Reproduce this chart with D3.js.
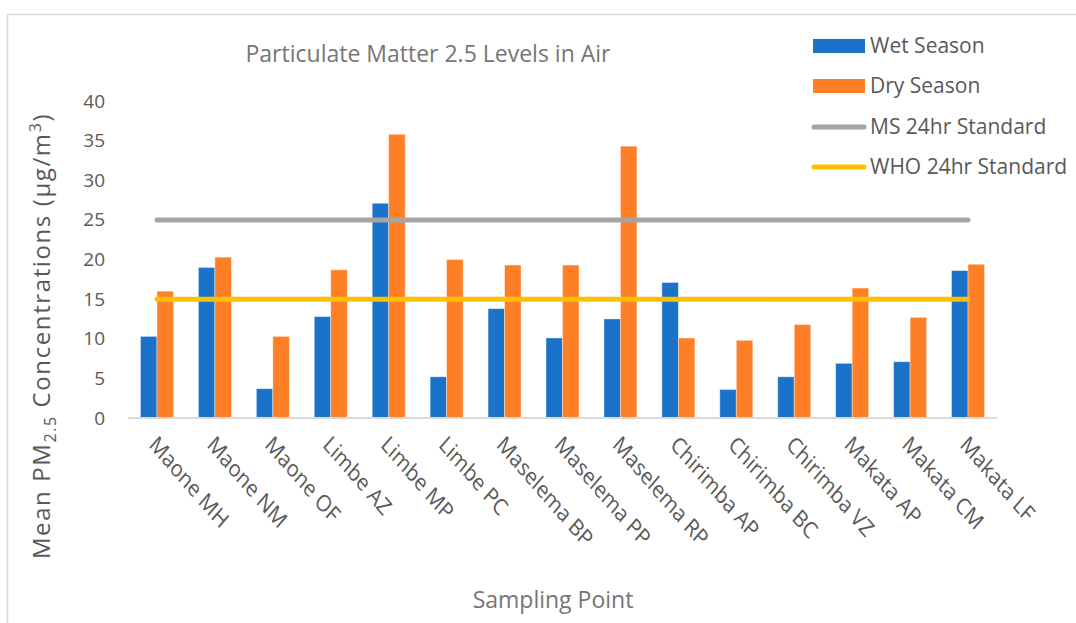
<!DOCTYPE html>
<html>
<head>
<meta charset="utf-8">
<script src="https://cdn.jsdelivr.net/npm/d3@7"></script>
<style>
  html, body { margin: 0; padding: 0; background: #fff; }
  svg { display: block; font-family: "Open Sans", "Noto Sans", sans-serif; }
</style>
</head>
<body>
<svg id="chart" width="1076" height="623"></svg>
<script>
const categories = ["Maone MH", "Maone NM", "Maone OF", "Limbe AZ", "Limbe MP", "Limbe PC",
  "Maselema BP", "Maselema PP", "Maselema RP", "Chirimba AP", "Chirimba BC", "Chirimba VZ",
  "Makata AP", "Makata CM", "Makata LF"];
const wetSeason = [10.3, 19.0, 3.7, 12.8, 27.1, 5.2, 13.8, 10.1, 12.5, 17.1, 3.6, 5.2, 6.9, 7.1, 18.6];
const drySeason = [16.0, 20.3, 10.3, 18.7, 35.8, 20.0, 19.3, 19.3, 34.3, 10.1, 9.8, 11.8, 16.4, 12.7, 19.4];
const msStandard = 25;
const whoStandard = 15;
const yTicks = [0, 5, 10, 15, 20, 25, 30, 35, 40];

const svg = d3.select("#chart");
const colors = { wet: "#1A73C9", dry: "#FF7F27", ms: "#A5A5A5", who: "#FFC000" };
const textColor = "#595959";

// outer frame
svg.append("rect").attr("x", 7.5).attr("y", 14.5).attr("width", 1100).attr("height", 700)
  .attr("fill", "none").attr("stroke", "#D9D9D9").attr("stroke-width", 1.5);

const x = d3.scaleBand().domain(categories).range([128, 997]).paddingInner(0.43).paddingOuter(0.215);
const sub = d3.scaleBand().domain(["wet", "dry"]).range([0, x.bandwidth()]);
const y = d3.scaleLinear().domain([0, 40]).range([418, 101]);

// y axis
const yAxis = d3.axisLeft(y).tickValues(yTicks).tickSize(0).tickPadding(0);
const gy = svg.append("g").attr("transform", "translate(105,0)").call(yAxis);
gy.select(".domain").remove();
gy.selectAll("text").attr("fill", textColor).style("font-size", "19px")
  .style("font-family", "Open Sans, sans-serif");

// bars
const groups = svg.append("g").selectAll("g").data(categories).join("g")
  .attr("transform", d => `translate(${x(d)},0)`);
groups.append("rect").attr("x", sub("wet")).attr("width", sub.bandwidth())
  .attr("y", (d, i) => y(wetSeason[i])).attr("height", (d, i) => y(0) - y(wetSeason[i]))
  .attr("fill", colors.wet).attr("stroke", "#fff").attr("stroke-opacity", 0.5).attr("stroke-width", 0.8);
groups.append("rect").attr("x", sub("dry")).attr("width", sub.bandwidth())
  .attr("y", (d, i) => y(drySeason[i])).attr("height", (d, i) => y(0) - y(drySeason[i]))
  .attr("fill", colors.dry).attr("stroke", "#fff").attr("stroke-opacity", 0.5).attr("stroke-width", 0.8);

// x axis
const xAxis = d3.axisBottom(x).tickSize(0).tickPadding(0);
const gx = svg.append("g").attr("transform", `translate(0,${y(0)})`).call(xAxis);
gx.select(".domain").attr("stroke", "#D9D9D9").attr("stroke-width", 2).attr("d", "M128,0H997");
gx.selectAll("text")
  .attr("fill", textColor).style("font-size", "20px").style("font-family", "Open Sans, sans-serif")
  .attr("text-anchor", "start").attr("dy", null).attr("y", 0)
  .attr("transform", "translate(-9,28) scale(1,1.15) rotate(45)");

// standard lines
const cx = d => x(d) + x.bandwidth() / 2;
const line = d3.line().x(d => cx(d.c)).y(d => y(d.v));
svg.append("path").datum(categories.map(c => ({ c, v: msStandard })))
  .attr("d", line).attr("fill", "none").attr("stroke", colors.ms)
  .attr("stroke-width", 5).attr("stroke-linecap", "round");
svg.append("path").datum(categories.map(c => ({ c, v: whoStandard })))
  .attr("d", line).attr("fill", "none").attr("stroke", colors.who)
  .attr("stroke-width", 5).attr("stroke-linecap", "round");

// title
svg.append("text").attr("x", 428).attr("y", 62).attr("text-anchor", "middle")
  .attr("fill", "#767676").style("font-size", "23px").text("Particulate Matter 2.5 Levels in Air");

// axis titles
const yt = svg.append("text").attr("transform", "translate(50,336) rotate(-90)")
  .attr("text-anchor", "middle").attr("fill", textColor).style("font-size", "24px")
  .style("letter-spacing", "1.6px");
yt.append("tspan").text("Mean PM");
yt.append("tspan").attr("dy", 6).style("font-size", "16px").text("2.5");
yt.append("tspan").attr("dy", -6).text(" Concentrations (µg/m");
yt.append("tspan").attr("dy", -9).style("font-size", "16px").text("3");
yt.append("tspan").attr("dy", 9).text(")");

svg.append("text").attr("x", 553).attr("y", 608).attr("text-anchor", "middle")
  .attr("fill", "#767676").style("font-size", "23px").text("Sampling Point");

// legend
const legendItems = [
  { label: "Wet Season", type: "rect", color: colors.wet, y: 46 },
  { label: "Dry Season", type: "rect", color: colors.dry, y: 86 },
  { label: "MS 24hr Standard", type: "line", color: colors.ms, y: 127 },
  { label: "WHO 24hr Standard", type: "line", color: colors.who, y: 167 }
];
const lg = svg.append("g").selectAll("g").data(legendItems).join("g");
lg.filter(d => d.type === "rect").append("rect")
  .attr("x", 813).attr("y", d => d.y - 7).attr("width", 52).attr("height", 14).attr("fill", d => d.color);
lg.filter(d => d.type === "line").append("line")
  .attr("x1", 814).attr("x2", 864).attr("y1", d => d.y).attr("y2", d => d.y)
  .attr("stroke", d => d.color).attr("stroke-width", 5).attr("stroke-linecap", "round");
lg.append("text").attr("x", 870).attr("y", d => d.y).attr("dy", "0.35em")
  .attr("fill", textColor).style("font-size", "21px").text(d => d.label);
</script>
</body>
</html>
